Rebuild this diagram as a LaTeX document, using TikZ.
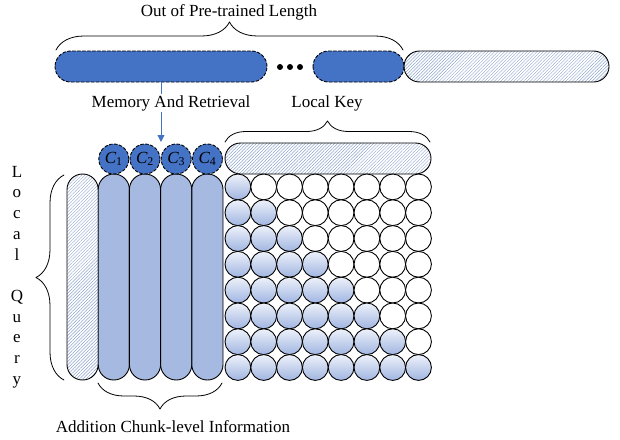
\documentclass[tikz,border=0pt]{standalone}
\usepackage{fontspec}
\setmainfont{Liberation Serif}
\usetikzlibrary{patterns.meta,decorations.pathreplacing,arrows.meta}

\definecolor{memblue}{RGB}{68,114,196}
\definecolor{colblue}{RGB}{166,185,224}
\definecolor{hatchblue}{RGB}{140,162,204}
\definecolor{cellblue}{RGB}{160,181,225}
\definecolor{celltop}{RGB}{238,242,250}

\begin{document}
\begin{tikzpicture}[
    x=1pt,
    y=-1pt,
    line cap=round,
    line join=round,
    every node/.style={font=\fontsize{17}{20.7}\selectfont},
    edge/.style={line width=0.9pt},
    membar/.style={edge,draw,fill=memblue,dash pattern=on 3pt off 2pt},
    hatchbar/.style={edge,draw,
        pattern={Lines[angle=45,distance=2.3pt,line width=0.45pt]},
        pattern color=hatchblue},
    colbar/.style={edge,draw,fill=colblue},
    chunk/.style={circle,edge,draw,fill=memblue,dash pattern=on 3pt off 2pt,
        minimum size=30pt,inner sep=0pt},
    cellfull/.style={circle,edge,draw,top color=celltop,bottom color=cellblue,
        minimum size=25.8pt,inner sep=0pt},
    cellempty/.style={circle,edge,draw,fill=white,minimum size=25.8pt,inner sep=0pt},
    curly/.style={decorate,decoration={brace,amplitude=#1},line width=0.8pt},
    lbl/.style={inner sep=1pt}
]

\useasboundingbox (0,0) rectangle (620,439);

% =========================================================
% Parameters
% =========================================================

\def\cw{31.2}   % column width
\def\cd{25.8}   % cell diameter
\def\gx{225}    % grid left
\def\gy{174}    % grid top

% =========================================================
% Top row: memory blocks and current block
% =========================================================

\draw[membar, rounded corners=15.5pt] (55,51) rectangle (267,82);
\draw[membar, rounded corners=15.5pt] (313,51) rectangle (404,82);
\draw[hatchbar, rounded corners=15.5pt] (404,51) rectangle (609,82);

\foreach \d in {280,290,300}
    \fill (\d,67) circle (3pt);

\coordinate (memout) at (161,82);
\coordinate (memin) at (161,142);

% =========================================================
% Arrow and labels of the top row
% =========================================================

\draw[edge, memblue, -{Triangle[length=7pt,width=7pt]}] (memout) -- (memin);

\draw[curly=28pt] (56,50) -- (403,50);
\node[lbl] (outlen) at (229,12) {Out of Pre-trained Length};
\node[lbl, fill=white] (memret) at (171,103) {Memory And Retrieval};
\node[lbl] (lockey) at (327,103) {Local Key};

% =========================================================
% Local key
% =========================================================

\draw[curly=21pt] (225,142) -- (430,142);
\draw[hatchbar, rounded corners=15.5pt] (225,143) rectangle (431,174);

% =========================================================
% Local query and chunk columns
% =========================================================

\draw[hatchbar, rounded corners=15.5pt] (67,174) rectangle ({67+\cw},380);
\foreach \i in {1,...,4}
    \draw[colbar, rounded corners=15.5pt] ({67+\i*\cw},174) rectangle ({67+(\i+1)*\cw},380);

\foreach \i in {1,...,4}
    \node[chunk] (c\i) at ({67+(\i+0.5)*\cw},159) {{\itshape C}\textsubscript{\i}};

% =========================================================
% Attention grid
% =========================================================

\foreach \r in {0,...,7}{
    \foreach \c in {0,...,7}{
        \ifnum\c>\r
            \node[cellempty] (q\r k\c) at ({\gx+\cd/2+\cd*\c},{\gy+\cd/2+\cd*\r}) {};
        \else
            \node[cellfull] (q\r k\c) at ({\gx+\cd/2+\cd*\c},{\gy+\cd/2+\cd*\r}) {};
        \fi
    }
}

% =========================================================
% Side and bottom braces
% =========================================================

\draw[curly=28pt] (64,380) -- (64,175);
\node[lbl, align=center] (locq) at (17,277) {L\\o\\c\\a\\l\\[20.7pt]Q\\u\\e\\r\\y};

\draw[curly=26pt] (222,383) -- (98,383);
\node[lbl] (addinfo) at (173,427) {Addition Chunk-level Information};

\end{tikzpicture}
\end{document}
